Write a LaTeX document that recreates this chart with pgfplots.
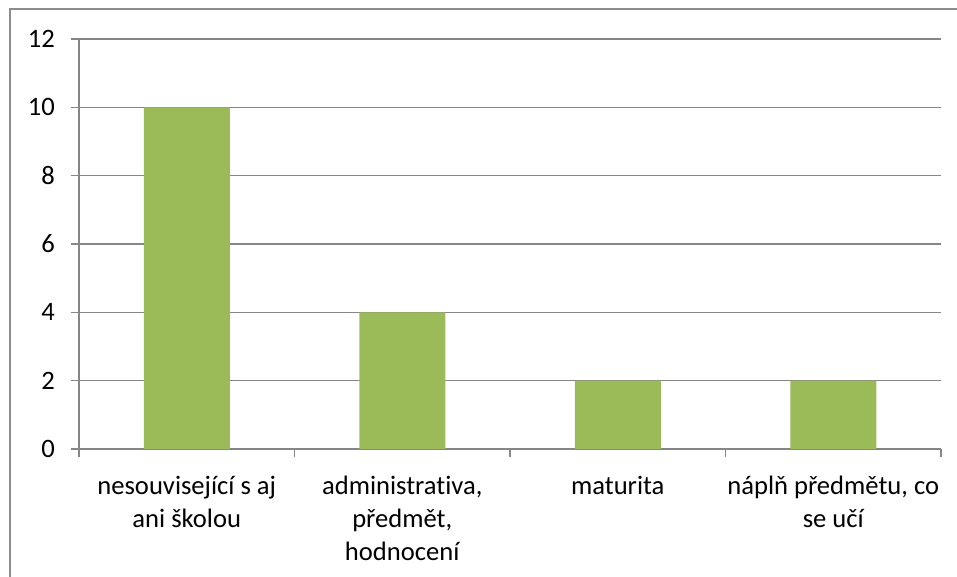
\documentclass[border=0pt]{standalone}
\usepackage{fontspec}
\setmainfont{Carlito}[Ligatures=NoCommon]
\usepackage{pgfplots}
\pgfplotsset{compat=1.18}
\definecolor{barGreen}{HTML}{9BBB59}
\definecolor{axGray}{HTML}{868686}
\definecolor{frameGray}{HTML}{8C8C8C}
\newcommand{\lblfont}{\fontsize{13.3}{16.5}\selectfont}
\begin{document}
\begin{tikzpicture}[x=1pt,y=1pt]
\useasboundingbox (0,0) rectangle (478.5,288.5);
\draw[frameGray, line width=1pt] (5,-2) -- (5,284) -- (481,284);
\begin{axis}[
  at={(39.5pt,64pt)}, anchor=south west,
  scale only axis, width=431pt, height=205pt,
  ybar, bar width=43pt, bar shift=0pt,
  xmin=-0.5, xmax=3.5, ymin=0, ymax=12,
  ytick={0,2,...,12},
  xtick={0,1,2,3},
  xticklabels={{nesouvisející s aj\\ani školou},{administrativa,\\předmět,\\hodnocení},{maturita},{náplň předmětu, co\\se učí}},
  minor xtick={-0.5,0.5,1.5,2.5,3.5},
  axis x line*=bottom, axis y line*=left,
  axis line style={axGray, line width=0.8pt},
  ymajorgrids, grid style={axGray, line width=0.8pt},
  tick style={axGray, line width=0.8pt},
  tick align=outside,
  major tick length=4pt, minor tick length=4pt,
  major x tick style={draw=none},
  xticklabel style={font=\lblfont, align=center, anchor=north, yshift=-6pt},
  yticklabel style={font=\lblfont, xshift=-4.5pt},
  /pgf/number format/assume math mode=true,
]
\addplot[fill=barGreen, draw=none] coordinates {(0,10) (1,4) (2,2) (3,2)};
\end{axis}
\end{tikzpicture}
\end{document}
